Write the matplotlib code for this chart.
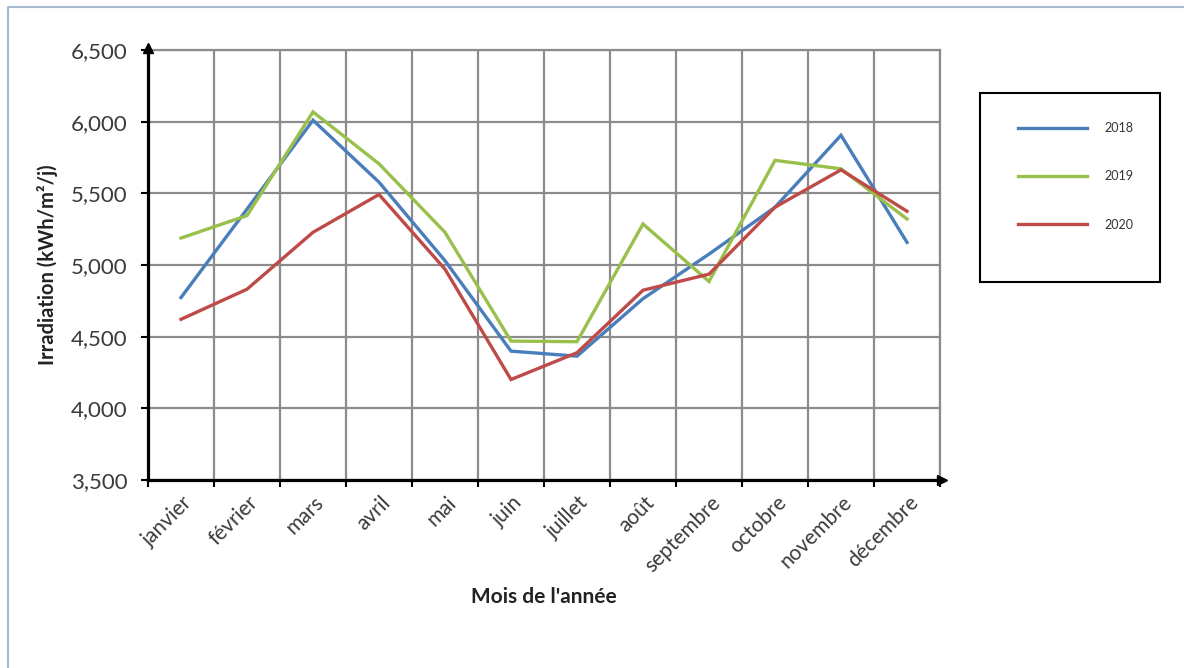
import matplotlib
matplotlib.use("Agg")
import matplotlib.pyplot as plt
from matplotlib.lines import Line2D
from matplotlib.patches import Rectangle
from matplotlib.ticker import FuncFormatter, FixedLocator
import matplotlib.transforms as mtransforms

months = ["janvier", "février", "mars", "avril", "mai", "juin", "juillet",
          "août", "septembre", "octobre", "novembre", "décembre"]
y2018 = [4773, 5390, 6010, 5578, 5030, 4399, 4364, 4765, 5076, 5403, 5905, 5158]
y2019 = [5188, 5345, 6068, 5706, 5228, 4469, 4465, 5286, 4885, 5730, 5671, 5321]
y2020 = [4621, 4831, 5228, 5492, 4971, 4201, 4388, 4824, 4936, 5403, 5664, 5375]
series_labels = ["2018", "2019", "2020"]
colors = ["#4a7ebb", "#98c04a", "#be4b48"]
yticks = [3500, 4000, 4500, 5000, 5500, 6000, 6500]

plt.rcParams['font.family'] = ['Lato', 'DejaVu Sans']

W, H = 1184, 668
fig = plt.figure(figsize=(W / 100, H / 100), dpi=100)
ax = fig.add_axes([148 / W, 1 - 480 / H, (940 - 148) / W, (480 - 50) / H])

x = list(range(len(months)))
for vals, lab, c in zip([y2018, y2019, y2020], series_labels, colors):
    ax.plot(x, vals, color=c, lw=2.4, label=lab, solid_joinstyle='miter', zorder=3)

ax.set_xlim(-0.5, len(months) - 0.5)
ax.set_ylim(yticks[0], yticks[-1])

# grid at category boundaries
ax.xaxis.set_major_locator(FixedLocator([i - 0.5 for i in range(len(months) + 1)]))
ax.set_xticklabels([], minor=False)
ax.set_xticks(x, minor=True)
ax.set_xticklabels(months, minor=True, rotation=45, ha='right', va='center',
                   rotation_mode='anchor', fontsize=15, color='#3a3a3a')
ax.tick_params(axis='x', which='minor', length=0, pad=14)
offset = mtransforms.ScaledTranslation(8 / 100, 0, fig.dpi_scale_trans)
for lbl in ax.get_xticklabels(minor=True):
    lbl.set_transform(lbl.get_transform() + offset)
ax.tick_params(axis='x', which='major', length=5, width=1.5, color='black', direction='out')

ax.set_yticks(yticks)
ax.yaxis.set_major_formatter(FuncFormatter(lambda v, p: f"{int(v):,}"))
ax.tick_params(axis='y', length=5, width=1.5, color='black', labelsize=16,
               labelcolor='#3a3a3a', pad=10)

ax.grid(True, which='major', color='#8c8c8c', lw=1.6)
ax.set_axisbelow(True)

for s in ['top', 'right']:
    ax.spines[s].set_color('#8c8c8c')
    ax.spines[s].set_linewidth(1.6)
for s in ['left', 'bottom']:
    ax.spines[s].set_color('black')
    ax.spines[s].set_linewidth(2.3)
    ax.spines[s].set_zorder(4)

# arrow heads
ax.plot([0], [1.005], marker='^', color='black', markersize=7, transform=ax.transAxes, clip_on=False, zorder=5)
ax.plot([1.003], [0], marker='>', color='black', markersize=7, transform=ax.transAxes, clip_on=False, zorder=5)

ax.set_ylabel("Irradiation (kWh/m²/j)", fontsize=14.5, fontweight='bold', color='#222222', labelpad=9)
ax.set_xlabel("Mois de l'année", fontsize=15, fontweight='bold', color='#222222', labelpad=8)

# legend box
fig.patches.append(Rectangle((980 / W, 1 - 282 / H), 180 / W, 189 / H, transform=fig.transFigure,
                             fill=False, edgecolor='black', lw=1.5))
handles, labels = ax.get_legend_handles_labels()
fig.legend(handles, labels, loc='upper left', bbox_to_anchor=(1012 / W, 1 - 116 / H),
           frameon=False, fontsize=9, handlelength=5.5, handletextpad=1.4,
           labelspacing=2.9, borderpad=0, labelcolor='#333333')

# figure border
fig.add_artist(Line2D([8 / W, 8 / W, 1.0], [0.0, 1 - 7 / H, 1 - 7 / H], transform=fig.transFigure,
                      color='#a9b9cc', lw=1.5))

fig.savefig("out.png", dpi=100)
